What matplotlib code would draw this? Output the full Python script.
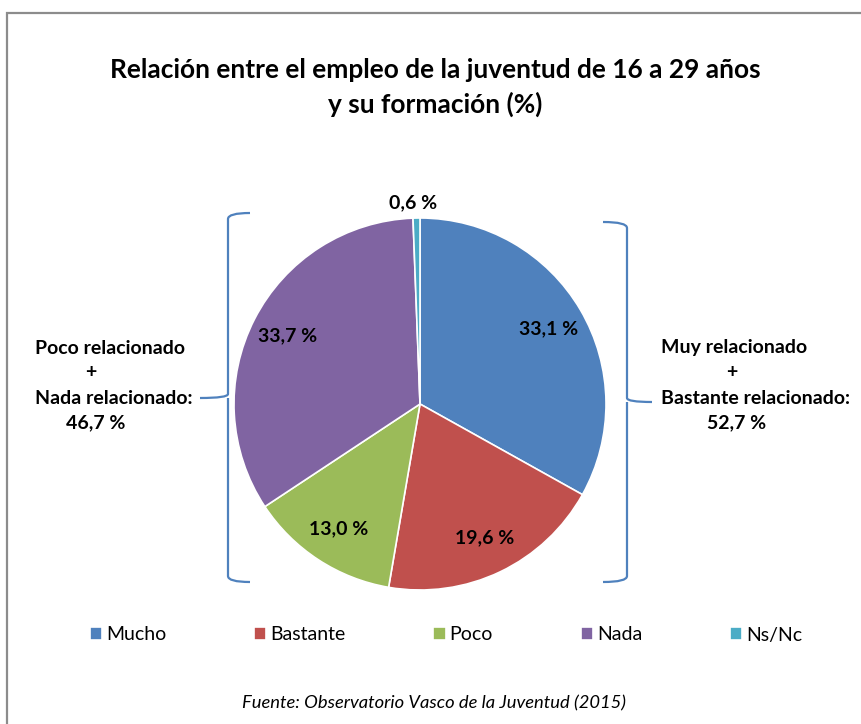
import matplotlib.pyplot as plt
from matplotlib.patches import Rectangle
from matplotlib.path import Path
from matplotlib.patches import PathPatch

plt.rcParams['font.family'] = ['Lato', 'DejaVu Sans']

categories = ['Mucho', 'Bastante', 'Poco', 'Nada', 'Ns/Nc']
values = [33.1, 19.6, 13.0, 33.7, 0.6]
colors = ['#4F81BD', '#C0504D', '#9BBB59', '#8064A2', '#4BACC6']
left_total = 46.7
right_total = 52.7

W, H = 861, 724
fig = plt.figure(figsize=(W / 100, H / 100), dpi=100)
ax = fig.add_axes([0, 0, 1, 1])
ax.set_xlim(0, W)
ax.set_ylim(0, H)
ax.set_aspect('equal')
ax.axis('off')


def Y(y):
    # pixel row -> data y
    return H - y


# chart frame
ax.add_patch(Rectangle((7, Y(900)), 1000, 900 - 13, fill=False,
                       edgecolor='#8c8c8c', linewidth=1.6))

ax.text(435, Y(70), 'Relación entre el empleo de la juventud de 16 a 29 años',
        ha='center', va='center', fontsize=18.9, fontweight='bold')
ax.text(435, Y(104), 'y su formación (%)',
        ha='center', va='center', fontsize=18.9, fontweight='bold')

wedges, texts, autotexts = ax.pie(values, colors=colors, startangle=90,
                                  counterclock=False, center=(420, Y(404)),
                                  radius=186, autopct='%1.1f',
                                  pctdistance=0.8,
                                  wedgeprops=dict(edgecolor='white', linewidth=1.2),
                                  textprops=dict(fontsize=14, fontweight='bold'))
for t, v in zip(autotexts, values):
    t.set_text(f'{v:.1f} %'.replace('.', ','))
autotexts[-1].set_position((413, Y(203)))
ax.set_xlim(0, W)
ax.set_ylim(0, H)


def brace(x_end, x_mid, x_tip, y0, y1, yt):
    verts = [(x_end, Y(y0)), (x_mid, Y(y0)), (x_mid, Y(y0 + 6)),
             (x_mid, Y(yt - 4)), (x_mid, Y(yt)), (x_tip, Y(yt)),
             (x_mid, Y(yt)), (x_mid, Y(yt + 4)),
             (x_mid, Y(y1 - 6)), (x_mid, Y(y1)), (x_end, Y(y1))]
    codes = [Path.MOVETO, Path.CURVE3, Path.CURVE3,
             Path.LINETO, Path.CURVE3, Path.CURVE3,
             Path.MOVETO, Path.CURVE3,
             Path.LINETO, Path.CURVE3, Path.CURVE3]
    ax.add_patch(PathPatch(Path(verts, codes), fill=False,
                           edgecolor='#4F81BD', linewidth=1.6))


brace(250, 228, 200, 213, 582, 398)
brace(603, 627, 652, 222, 582, 402)

fs = 14
ax.text(35, Y(348), 'Poco relacionado', ha='left', va='center', fontsize=fs, fontweight='bold')
ax.text(91, Y(372), '+', ha='center', va='center', fontsize=fs, fontweight='bold')
ax.text(35, Y(398), 'Nada relacionado:', ha='left', va='center', fontsize=fs, fontweight='bold')
ax.text(96, Y(423), f'{left_total:.1f} %'.replace('.', ','), ha='center', va='center',
        fontsize=fs, fontweight='bold')

ax.text(661, Y(348), 'Muy relacionado', ha='left', va='center', fontsize=fs, fontweight='bold')
ax.text(732, Y(372), '+', ha='center', va='center', fontsize=fs, fontweight='bold')
ax.text(661, Y(398), 'Bastante relacionado:', ha='left', va='center', fontsize=fs, fontweight='bold')
ax.text(737, Y(423), f'{right_total:.1f} %'.replace('.', ','), ha='center', va='center',
        fontsize=fs, fontweight='bold')

leg = ax.legend(wedges, categories, loc='center', bbox_to_anchor=(446 / W, 1 - 635 / H),
                ncol=5, frameon=False, fontsize=14, handlelength=0.65, handleheight=0.65,
                columnspacing=4.5, handletextpad=0.2)

ax.text(434, Y(703), 'Fuente: Observatorio Vasco de la Juventud (2015)',
        ha='center', va='center', fontsize=13.2, style='italic')

fig.savefig('out.png', dpi=100)
